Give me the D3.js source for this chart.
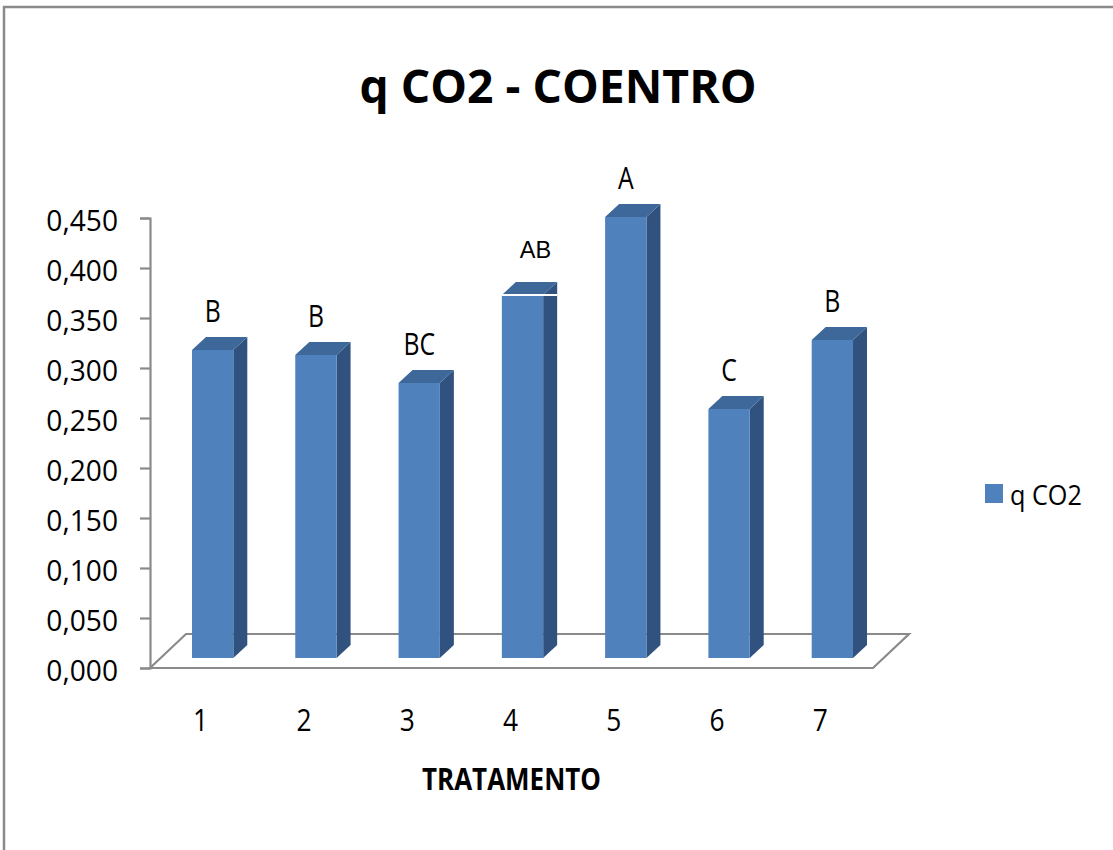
<!DOCTYPE html>
<html>
<head>
<meta charset="utf-8">
<script src="https://cdn.jsdelivr.net/npm/d3@7"></script>
<style>
  html, body { margin: 0; padding: 0; background: #fff; }
  svg { display: block; }
</style>
</head>
<body>
<script>
// Treatments, qCO2 means and Tukey grouping letters
const categories = ["1", "2", "3", "4", "5", "6", "7"];
const qco2 = [0.308, 0.303, 0.275, 0.363, 0.441, 0.249, 0.318];
const groups = ["B", "B", "BC", "AB", "A", "C", "B"];
const yTicks = [0, 0.05, 0.10, 0.15, 0.20, 0.25, 0.30, 0.35, 0.40, 0.45];
const seriesName = "q CO2";
const chartTitle = "q CO2 - COENTRO";
const xTitle = "TRATAMENTO";

const W = 1113, H = 850;
const svg = d3.select("body").append("svg").attr("width", W).attr("height", H);

const FONT = "'Open Sans', 'DejaVu Sans', sans-serif";
const colFront = "#4f81bd", colTop = "#3d6899", colSide = "#31527f";
const gridGrey = "#8a8a8a";

// squeeze text horizontally to a narrower face
function condense(sel, f) {
  sel.each(function () {
    const n = this.getComputedTextLength();
    d3.select(this).attr("textLength", n * f).attr("lengthAdjust", "spacingAndGlyphs");
  });
}

// outer chart frame
svg.append("rect")
  .attr("x", 4).attr("y", 7).attr("width", 1200).attr("height", 900)
  .attr("fill", "none").attr("stroke", gridGrey).attr("stroke-width", 2.5);

const y = d3.scaleLinear().domain([0, 0.45]).range([668, 218]);
const x = d3.scaleBand().domain(categories).range([150, 873]);
const bw = x.bandwidth();

// 3D projection offsets
const floorDx = 36, floorDy = 34;     // full floor depth
const barShiftX = 11, barShiftY = 10; // bar front plane inside floor
const depthX = 14, depthY = 13;       // bar thickness
const barW = bw * 0.4;

// floor
const y0 = y(0);
const [xl, xr] = x.range();
svg.append("path")
  .attr("d", `M${xl},${y0} L${xl + floorDx},${y0 - floorDy} L${xr + floorDx},${y0 - floorDy} L${xr},${y0} Z`)
  .attr("fill", "#fff").attr("stroke", gridGrey).attr("stroke-width", 2.2)
  .attr("stroke-linejoin", "miter");

// value axis
const yAxis = d3.axisLeft(y)
  .tickValues(yTicks)
  .tickFormat(d => d3.format(".3f")(d).replace(".", ","))
  .tickSize(10).tickPadding(22);
const gy = svg.append("g").attr("transform", "translate(150,0)").call(yAxis);
gy.select(".domain").attr("stroke", gridGrey).attr("stroke-width", 2.2);
gy.selectAll(".tick line").attr("stroke", gridGrey).attr("stroke-width", 2.2);
gy.selectAll(".tick text")
  .attr("font-family", FONT).attr("font-size", 29).attr("fill", "#000")
  .attr("dy", "0.44em")
  .call(condense, 0.97);

// category axis
const xAxis = d3.axisBottom(x).tickSize(0).tickPadding(41);
const gx = svg.append("g").attr("transform", `translate(-1,${y0})`).call(xAxis);
gx.select(".domain").remove();
gx.selectAll(".tick text")
  .attr("font-family", FONT).attr("font-size", 31).attr("fill", "#000")
  .call(condense, 0.85);

// bars
const bars = svg.append("g").selectAll("g").data(categories).join("g");
bars.each(function (c, i) {
  const g = d3.select(this);
  const fx = x(c) + (bw - barW) / 2 + barShiftX;
  const yt = y(qco2[i]) - barShiftY;
  const yb = y(0) - barShiftY;
  g.append("path")
    .attr("d", `M${fx + barW},${yt} L${fx + barW + depthX},${yt - depthY} L${fx + barW + depthX},${yb - depthY} L${fx + barW},${yb} Z`)
    .attr("fill", colSide);
  g.append("path")
    .attr("d", `M${fx},${yt} L${fx + depthX},${yt - depthY} L${fx + barW + depthX},${yt - depthY} L${fx + barW},${yt} Z`)
    .attr("fill", colTop);
  g.append("rect")
    .attr("x", fx).attr("y", yt).attr("width", barW).attr("height", yb - yt)
    .attr("fill", colFront);

  // grouping letter
  const special = groups[i] === "AB";
  const t = g.append("text")
    .attr("x", special ? fx + barW / 2 + 13 : fx + barW / 2)
    .attr("y", special ? yt - depthY - 24 : yt - depthY - 15)
    .attr("text-anchor", "middle")
    .attr("fill", "#000")
    .attr("font-family", special ? "'Liberation Sans', Arial, sans-serif" : FONT)
    .attr("font-size", special ? 23.5 : 31)
    .text(groups[i]);
  if (!special) condense(t, 0.8);
  else {
    // white rule across the top edge of this bar
    g.append("line")
      .attr("x1", fx).attr("x2", fx + barW + depthX)
      .attr("y1", yt).attr("y2", yt)
      .attr("stroke", "#fff").attr("stroke-width", 2);
  }
});

// title
svg.append("text")
  .attr("x", 558).attr("y", 103).attr("text-anchor", "middle")
  .attr("font-family", FONT).attr("font-weight", 700).attr("font-size", 46)
  .attr("textLength", 397).attr("lengthAdjust", "spacingAndGlyphs")
  .attr("fill", "#000")
  .text(chartTitle);

// axis title
svg.append("text")
  .attr("x", (xl + xr) / 2).attr("y", 790).attr("text-anchor", "middle")
  .attr("font-family", FONT).attr("font-weight", 700).attr("font-size", 31)
  .attr("textLength", 179).attr("lengthAdjust", "spacingAndGlyphs")
  .attr("fill", "#000")
  .text(xTitle);

// legend
const lg = svg.append("g").attr("transform", "translate(985,484)");
lg.append("rect").attr("width", 18).attr("height", 19).attr("fill", colFront);
const lt = lg.append("text")
  .attr("x", 25).attr("y", 21)
  .attr("font-family", FONT).attr("font-size", 28).attr("fill", "#000")
  .text(seriesName);
condense(lt, 0.9);
</script>
</body>
</html>
